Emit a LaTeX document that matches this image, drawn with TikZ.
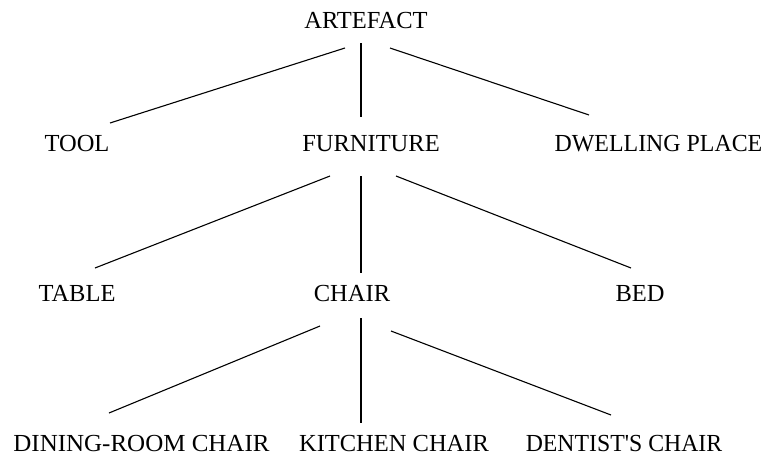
\documentclass[tikz,border=0pt]{standalone}
\usepackage{fontspec}
\setmainfont{Liberation Serif}
\begin{document}
\begin{tikzpicture}[x=1pt,y=-1pt,
  lbl/.style={anchor=base,inner sep=0pt,font=\fontsize{24.5}{29}\selectfont},
  edge/.style={line width=1.1pt,black}]
\useasboundingbox (0,0) rectangle (765,455);
\node[lbl] (artefact) at (366,28) {ARTEFACT};
\node[lbl] (tool) at (77,151) {TOOL};
\node[lbl] (furniture) at (371,151) {FURNITURE};
\node[lbl] (dwelling) at (658.5,151) {\scalebox{0.975}[1]{DWELLING PLACE}};
\node[lbl] (table) at (77,301) {TABLE};
\node[lbl] (chair) at (352,301) {CHAIR};
\node[lbl] (bed) at (640,301) {BED};
\node[lbl] (dining) at (141.5,451) {\scalebox{1.02}[1]{DINING-ROOM CHAIR}};
\node[lbl] (kitchen) at (394,451) {KITCHEN CHAIR};
\node[lbl] (dentist) at (624,451) {\scalebox{0.97}[1]{DENTIST\textquotesingle S CHAIR}};
% connector end points
\coordinate (a-l) at (345,48);  \coordinate (tool-t) at (110,123);
\coordinate (a-m) at (361,43);  \coordinate (furn-t) at (361,117);
\coordinate (a-r) at (390,48);  \coordinate (dwel-t) at (589,115);
\coordinate (f-l) at (330,176); \coordinate (table-t) at (95,268);
\coordinate (f-m) at (361,176); \coordinate (chair-t) at (361,273);
\coordinate (f-r) at (396,176); \coordinate (bed-t) at (631,268);
\coordinate (c-l) at (320,326); \coordinate (dining-t) at (109,413);
\coordinate (c-m) at (361,318); \coordinate (kitchen-t) at (361,423);
\coordinate (c-r) at (391,331); \coordinate (dentist-t) at (611,415);
\draw[edge] (a-l) -- (tool-t);
\draw[edge] (a-m) -- (furn-t);
\draw[edge] (a-r) -- (dwel-t);
\draw[edge] (f-l) -- (table-t);
\draw[edge] (f-m) -- (chair-t);
\draw[edge] (f-r) -- (bed-t);
\draw[edge] (c-l) -- (dining-t);
\draw[edge] (c-m) -- (kitchen-t);
\draw[edge] (c-r) -- (dentist-t);
\end{tikzpicture}
\end{document}
